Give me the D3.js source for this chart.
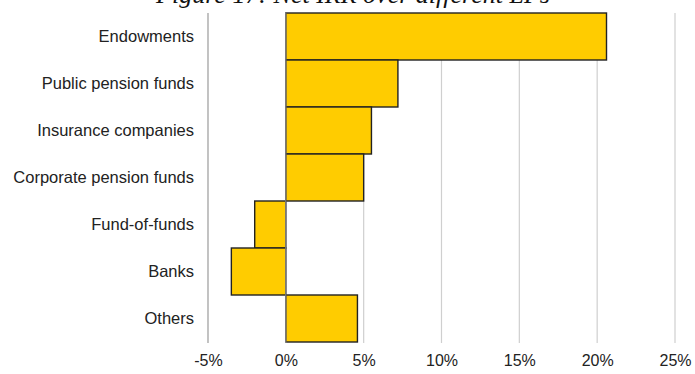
<!DOCTYPE html>
<html>
<head>
<meta charset="utf-8">
<script src="https://cdn.jsdelivr.net/npm/d3@7"></script>
<style>
  html, body { margin: 0; padding: 0; background: #fff; }
  svg { display: block; }
</style>
</head>
<body>
<svg id="chart" width="695" height="374"></svg>
<script>
// Net IRR by type of limited partner (%)
const categories = ["Endowments", "Public pension funds", "Insurance companies",
  "Corporate pension funds", "Fund-of-funds", "Banks", "Others"];
const netIrr = [20.6, 7.2, 5.5, 5.0, -2.0, -3.5, 4.6];
const tickValues = [-5, 0, 5, 10, 15, 20, 25];
const title = "Figure 17: Net IRR over different LPs";

const svg = d3.select("#chart");
const margin = { top: 13, left: 208 };

const x = d3.scaleLinear().domain([-5, 25]).range([margin.left, 675]);
const y = d3.scaleBand().domain(categories).range([margin.top, 342]).padding(0);

// title (runs off the top edge)
svg.append("text")
  .attr("x", 353).attr("y", 3)
  .attr("text-anchor", "middle")
  .attr("font-family", "Liberation Serif, Times New Roman, serif")
  .attr("font-style", "italic")
  .attr("font-size", 26)
  .attr("fill", "#111")
  .text(title);

// vertical gridlines
svg.append("g").selectAll("line")
  .data(tickValues)
  .join("line")
  .attr("x1", d => x(d)).attr("x2", d => x(d))
  .attr("y1", margin.top).attr("y2", 343)
  .attr("stroke", d => d === -5 ? "#9a9a9a" : "#cfcfcf")
  .attr("stroke-width", 1.2);

// bars
svg.append("g").selectAll("rect")
  .data(categories)
  .join("rect")
  .attr("x", (d, i) => x(Math.min(0, netIrr[i])))
  .attr("y", d => y(d))
  .attr("width", (d, i) => Math.abs(x(netIrr[i]) - x(0)))
  .attr("height", y.bandwidth())
  .attr("fill", "#FFCC00")
  .attr("stroke", "#222")
  .attr("stroke-width", 1.4);

// zero line drawn over the bars
svg.append("line")
  .attr("x1", x(0)).attr("x2", x(0))
  .attr("y1", margin.top).attr("y2", 343)
  .attr("stroke", "#999").attr("stroke-width", 1);

// category axis labels
const yAxis = d3.axisLeft(y).tickSize(0).tickPadding(14);
svg.append("g")
  .attr("transform", `translate(${margin.left},0)`)
  .call(yAxis)
  .call(g => g.select(".domain").remove())
  .selectAll("text")
  .attr("font-family", "Liberation Sans, Arial, sans-serif")
  .attr("font-size", 16.5)
  .attr("fill", "#222");

// value axis labels
const xAxis = d3.axisBottom(x).tickValues(tickValues).tickSize(0).tickPadding(0)
  .tickFormat(d => d + "%");
svg.append("g")
  .attr("transform", `translate(0,355)`)
  .call(xAxis)
  .call(g => g.select(".domain").remove())
  .selectAll("text")
  .attr("font-family", "Liberation Sans, Arial, sans-serif")
  .attr("font-size", 16)
  .attr("fill", "#222");
</script>
</body>
</html>
